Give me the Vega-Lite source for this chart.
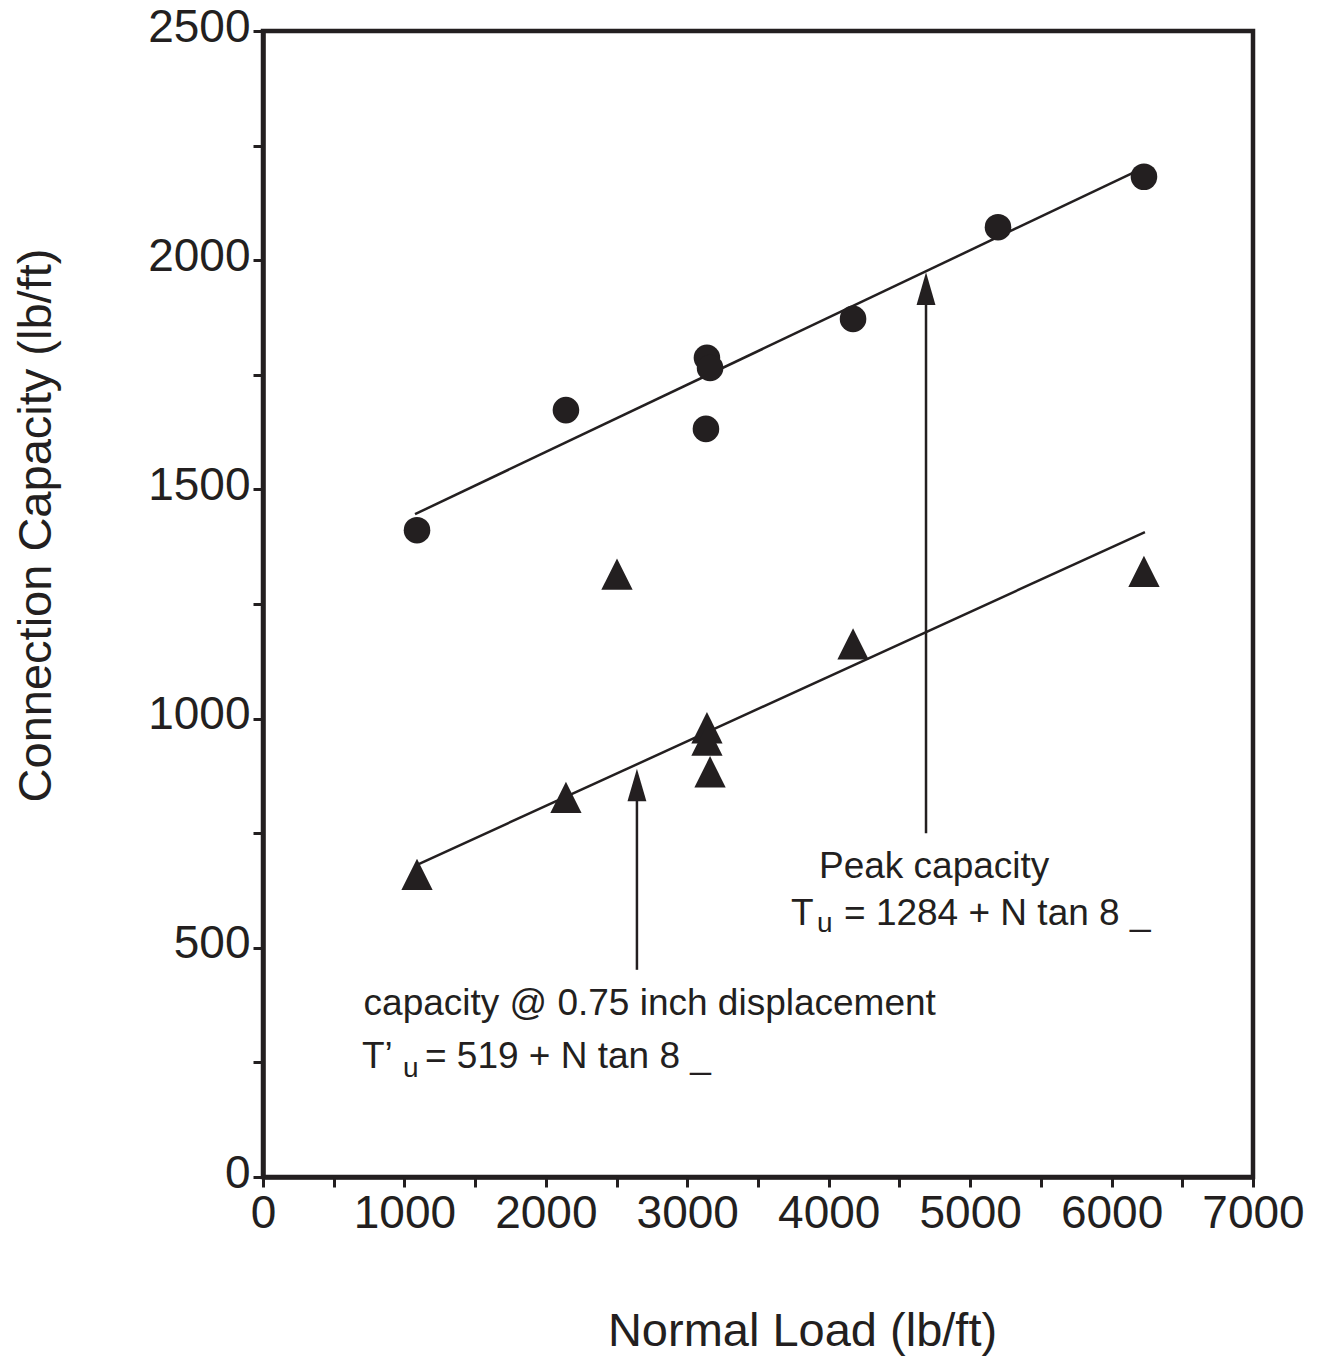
{
  "$schema": "https://vega.github.io/schema/vega-lite/v6.json",
  "width": 990,
  "height": 1146,
  "autosize": {"type": "none"},
  "padding": {"left": 263, "top": 31, "right": 75, "bottom": 179},
  "background": "white",
  "config": {
    "view": {"stroke": "#231f20", "strokeWidth": 4.5},
    "font": "Liberation Sans",
    "axis": {
      "grid": false,
      "domainColor": "#231f20",
      "domainWidth": 4.5,
      "tickColor": "#231f20",
      "tickWidth": 3,
      "tickSize": 10,
      "labelColor": "#231f20",
      "labelFont": "Liberation Sans",
      "labelFontSize": 46,
      "labelFlush": false,
      "labelOverlap": false,
      "titleColor": "#231f20",
      "titleFont": "Liberation Sans",
      "titleFontSize": 47,
      "titleFontWeight": "normal"
    }
  },
  "datasets": {
    "points": [
      {"test": "peak", "load": 1089, "capacity": 1411},
      {"test": "peak", "load": 2142, "capacity": 1673},
      {"test": "peak", "load": 3132, "capacity": 1632},
      {"test": "peak", "load": 3139, "capacity": 1787},
      {"test": "peak", "load": 3161, "capacity": 1765},
      {"test": "peak", "load": 4172, "capacity": 1872},
      {"test": "peak", "load": 5197, "capacity": 2072},
      {"test": "peak", "load": 6229, "capacity": 2182},
      {"test": "disp", "load": 1089, "capacity": 660},
      {"test": "disp", "load": 2142, "capacity": 828},
      {"test": "disp", "load": 2503, "capacity": 1315},
      {"test": "disp", "load": 3139, "capacity": 980},
      {"test": "disp", "load": 3139, "capacity": 953},
      {"test": "disp", "load": 3161, "capacity": 884},
      {"test": "disp", "load": 4172, "capacity": 1163},
      {"test": "disp", "load": 6229, "capacity": 1321}
    ],
    "lines": [
      {"fit": "peak", "load": 1075, "capacity": 1446},
      {"fit": "peak", "load": 6229, "capacity": 2202},
      {"fit": "disp", "load": 1089, "capacity": 681},
      {"fit": "disp", "load": 6236, "capacity": 1407}
    ],
    "arrows": [
      {"arrow": "peak", "load": 4688, "capacity": 750, "capacity2": 1925},
      {"arrow": "disp", "load": 2644, "capacity": 452, "capacity2": 845}
    ],
    "heads": [
      {"arrow": "peak", "load": 4688, "capacity": 1938},
      {"arrow": "disp", "load": 2644, "capacity": 855}
    ],
    "notes": [
      {"load": 3931, "capacity": 652, "label": "Peak capacity"},
      {"load": 3733, "capacity": 550, "label": "T"},
      {"load": 4108, "capacity": 550, "label": "= 1284 + N tan 8 _"},
      {"load": 711, "capacity": 353, "label": "capacity @ 0.75 inch displacement"},
      {"load": 700, "capacity": 238, "label": "T’"},
      {"load": 1145, "capacity": 238, "label": "= 519 + N tan 8 _"}
    ],
    "subs": [
      {"load": 3917, "capacity": 534, "label": "u"},
      {"load": 990, "capacity": 218, "label": "u"}
    ]
  },
  "layer": [
    {
      "data": {"name": "lines"},
      "mark": {"type": "line", "color": "#231f20", "strokeWidth": 2.5},
      "encoding": {
        "x": {
          "field": "load", "type": "quantitative",
          "scale": {"domain": [0, 7000], "nice": false, "zero": false},
          "axis": {
            "title": "Normal Load (lb/ft)",
            "values": [0, 500, 1000, 1500, 2000, 2500, 3000, 3500, 4000, 4500, 5000, 5500, 6000, 6500, 7000],
            "format": "d",
            "labelExpr": "datum.value % 1000 === 0 ? datum.label : ''",
            "labelPadding": 4,
            "titleX": 539,
            "titleY": 168,
            "titleBaseline": "alphabetic",
            "titleAlign": "center",
            "titleAnchor": null
          }
        },
        "y": {
          "field": "capacity", "type": "quantitative",
          "scale": {"domain": [0, 2500], "nice": false, "zero": false},
          "axis": {
            "title": "Connection Capacity (lb/ft)",
            "values": [0, 250, 500, 750, 1000, 1250, 1500, 1750, 2000, 2250, 2500],
            "format": "d",
            "labelExpr": "datum.value % 500 === 0 ? datum.label : ''",
            "labelPadding": 3,
            "labelOffset": -4,
            "titleX": -213,
            "titleY": 494,
            "titleAngle": -90,
            "titleBaseline": "alphabetic",
            "titleAlign": "center",
            "titleAnchor": null
          }
        },
        "detail": {"field": "fit", "type": "nominal"}
      }
    },
    {
      "data": {"name": "arrows"},
      "mark": {"type": "rule", "color": "#231f20", "strokeWidth": 2.5},
      "encoding": {
        "x": {"field": "load", "type": "quantitative"},
        "y": {"field": "capacity", "type": "quantitative"},
        "y2": {"field": "capacity2"}
      }
    },
    {
      "data": {"name": "heads"},
      "mark": {"type": "point", "shape": "M0,-1L-0.58,1L0.58,1Z", "size": 1060, "filled": true, "color": "#231f20", "opacity": 1, "strokeWidth": 0},
      "encoding": {
        "x": {"field": "load", "type": "quantitative"},
        "y": {"field": "capacity", "type": "quantitative"}
      }
    },
    {
      "data": {"name": "points"},
      "transform": [{"filter": "datum.test === 'peak'"}],
      "mark": {"type": "point", "shape": "circle", "size": 707, "filled": true, "color": "#231f20", "opacity": 1, "strokeWidth": 0},
      "encoding": {
        "x": {"field": "load", "type": "quantitative"},
        "y": {"field": "capacity", "type": "quantitative"}
      }
    },
    {
      "data": {"name": "points"},
      "transform": [{"filter": "datum.test === 'disp'"}],
      "mark": {"type": "point", "shape": "M0,-1L-1,1L1,1Z", "size": 980, "filled": true, "color": "#231f20", "opacity": 1, "strokeWidth": 0},
      "encoding": {
        "x": {"field": "load", "type": "quantitative"},
        "y": {"field": "capacity", "type": "quantitative"}
      }
    },
    {
      "data": {"name": "notes"},
      "mark": {"type": "text", "align": "left", "baseline": "alphabetic", "fontSize": 37, "font": "Liberation Sans", "color": "#231f20"},
      "encoding": {
        "x": {"field": "load", "type": "quantitative"},
        "y": {"field": "capacity", "type": "quantitative"},
        "text": {"field": "label", "type": "nominal"}
      }
    },
    {
      "data": {"name": "subs"},
      "mark": {"type": "text", "align": "left", "baseline": "alphabetic", "fontSize": 28, "font": "Liberation Sans", "color": "#231f20"},
      "encoding": {
        "x": {"field": "load", "type": "quantitative"},
        "y": {"field": "capacity", "type": "quantitative"},
        "text": {"field": "label", "type": "nominal"}
      }
    }
  ]
}
